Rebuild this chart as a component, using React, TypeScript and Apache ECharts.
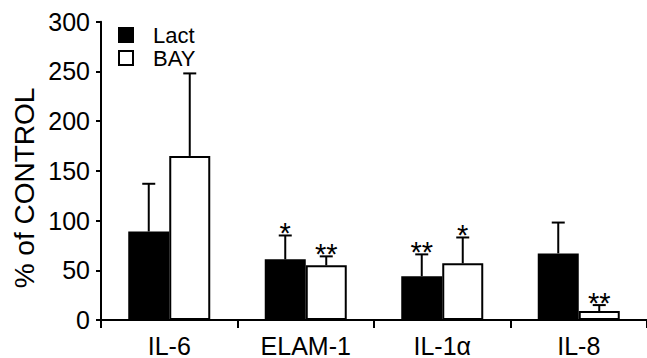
import React, { useEffect, useRef } from "react";
import * as echarts from "echarts";

const categories = ["IL-6", "ELAM-1", "IL-1α", "IL-8"];
const lactMean = [89, 61, 44, 67];
const lactUpper = [137, 85, 66, 98];
const bayMean = [165, 55, 57, 9];
const bayUpper = [248, 64, 83, 15];
const lactSig = ["", "*", "**", ""];
const baySig = ["", "**", "*", "**"];
const yTicks = [0, 50, 100, 150, 200, 250, 300];

const FONT = "'Liberation Sans', Arial, sans-serif";
const BAR_W = 41;

function makeErr(name: string, upper: number[], mean: number[], sig: string[], offset: number) {
  return {
    type: "custom",
    name: name + "-err",
    z: 4,
    renderItem: (_params: any, api: any) => {
      const i = api.value(0);
      const top = api.coord([i, api.value(1)]);
      const base = api.coord([i, api.value(2)]);
      const x = top[0] + offset;
      return {
        type: "group",
        children: [
          { type: "line", shape: { x1: x, y1: base[1], x2: x, y2: top[1] }, style: { stroke: "#000", lineWidth: 2 } },
          { type: "line", shape: { x1: x - 6.5, y1: top[1], x2: x + 6.5, y2: top[1] }, style: { stroke: "#000", lineWidth: 2 } },
          {
            type: "text",
            style: {
              text: sig[i],
              x: x,
              y: top[1] - 2,
              align: "center",
              verticalAlign: "middle",
              font: `29px ${FONT}`,
              fill: "#000",
            },
          },
        ],
      };
    },
    data: upper.map((u, i) => [i, u, mean[i]]),
  };
}

export default function App() {
  const ref = useRef<HTMLDivElement>(null);
  useEffect(() => {
    if (!ref.current) return;
    const chart = echarts.init(ref.current, null, { renderer: "svg" });
    chart.setOption({
      animation: false,
      backgroundColor: "#fff",
      grid: { left: 101, right: 0, top: 21.7, bottom: 36.3, containLabel: false },
      legend: {
        orient: "vertical",
        left: 113,
        top: 19,
        icon: "rect",
        itemWidth: 14,
        itemHeight: 14,
        itemGap: 1,
        data: ["Lact", "BAY"],
        textStyle: { fontFamily: FONT, fontSize: 22, lineHeight: 21, color: "#000", padding: [0, 0, 0, 15] },
      },
      xAxis: {
        type: "category",
        data: categories,
        axisLine: { lineStyle: { color: "#000", width: 2 } },
        axisTick: { show: true, length: 8, lineStyle: { color: "#000", width: 2 } },
        axisLabel: { color: "#000", fontFamily: FONT, fontSize: 25, margin: 13 },
      },
      yAxis: {
        type: "value",
        min: 0,
        max: 300,
        interval: 50,
        splitLine: { show: false },
        axisLine: { show: true, lineStyle: { color: "#000", width: 2 } },
        axisTick: { show: true, length: 5, lineStyle: { color: "#000", width: 2 } },
        axisLabel: {
          color: "#000",
          fontFamily: FONT,
          fontSize: 25,
          margin: 11,
          formatter: (v: number) => (yTicks.includes(v) ? String(v) : ""),
        },
      },
      graphic: [
        {
          type: "text",
          x: 24,
          y: 188,
          rotation: Math.PI / 2,
          style: {
            text: "% of CONTROL",
            align: "center",
            verticalAlign: "middle",
            font: `28px ${FONT}`,
            fill: "#000",
          },
        },
      ],
      series: [
        {
          name: "Lact",
          type: "bar",
          data: lactMean,
          barWidth: BAR_W,
          barGap: "0%",
          itemStyle: { color: "#000", borderColor: "#000", borderWidth: 2 },
          z: 2,
        },
        {
          name: "BAY",
          type: "bar",
          data: bayMean,
          barWidth: BAR_W,
          barGap: "0%",
          itemStyle: { color: "#fff", borderColor: "#000", borderWidth: 2 },
          z: 2,
        },
        makeErr("Lact", lactUpper, lactMean, lactSig, -BAR_W / 2),
        makeErr("BAY", bayUpper, bayMean, baySig, BAR_W / 2),
      ],
    });
    return () => chart.dispose();
  }, []);
  return <div ref={ref} style={{ width: 647, height: 358, position: "absolute", left: 0, top: 0 }} />;
}
